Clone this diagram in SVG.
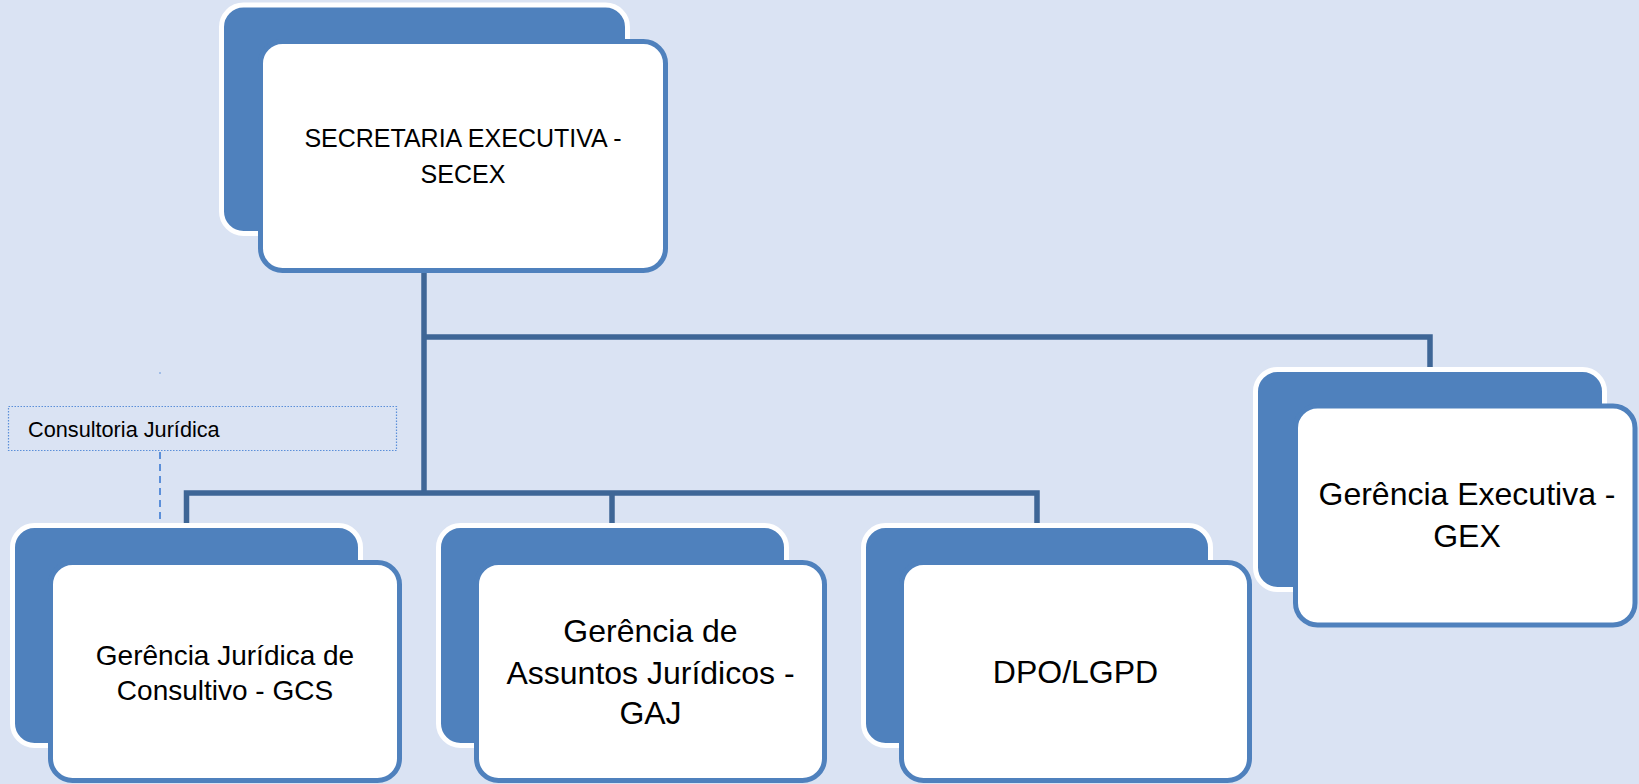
<svg xmlns="http://www.w3.org/2000/svg" width="1639" height="784" viewBox="0 0 1639 784">
<style>
.bg{fill:#dae3f3}
.back{fill:#4f81bd;stroke:#ffffff;stroke-width:5}
.front{fill:#ffffff;stroke:#4f81bd;stroke-width:5}
.conn{fill:none;stroke:#3e6696;stroke-width:5.5;stroke-linejoin:miter}
.dash{fill:none;stroke:#5b8fd9;stroke-width:2;stroke-dasharray:7 5}
.lbl{font-family:"Liberation Sans",Arial,sans-serif;fill:#000000;text-anchor:middle}
.note{font-family:"Liberation Sans",Arial,sans-serif;fill:#000000;font-size:21.7px}
</style>
<rect class="bg" x="0" y="0" width="1639" height="784"/>
<g id="connectors">
<path class="conn" d="M424 272 V493"/>
<path class="conn" d="M424 337 H1430 V370"/>
<path class="conn" d="M186.5 525 V493 H1037 V525"/>
<path class="conn" d="M612 493 V525"/>
<path class="dash" d="M160 452 V524"/>
</g>
<g id="secex">
<rect class="back" x="221.5" y="5" width="406" height="228.5" rx="22"/>
<rect class="front" x="260.5" y="41.5" width="405" height="229" rx="22"/>
<text class="lbl" font-size="25" x="463" y="147">SECRETARIA EXECUTIVA -</text>
<text class="lbl" font-size="25" x="463" y="183">SECEX</text>
</g>
<g id="consultoria">
<circle cx="160" cy="373" r="0.8" fill="#5b8fd9"/>
<rect x="8.5" y="406.5" width="388" height="44" fill="none" stroke="#5b8fd9" stroke-width="1.2" stroke-dasharray="1.5 1.5"/>
<text class="note" x="28" y="437">Consultoria Jurídica</text>
</g>
<g id="gcs">
<rect class="back" x="12.5" y="525.5" width="348" height="220" rx="22"/>
<rect class="front" x="50.5" y="562.5" width="349" height="218" rx="22"/>
<text class="lbl" font-size="28" x="225" y="665">Gerência Jurídica de</text>
<text class="lbl" font-size="28" x="225" y="700">Consultivo - GCS</text>
</g>
<g id="gaj">
<rect class="back" x="438.5" y="525.5" width="348" height="220" rx="22"/>
<rect class="front" x="476.5" y="562.5" width="348" height="218" rx="22"/>
<text class="lbl" font-size="32" x="650.5" y="642">Gerência de</text>
<text class="lbl" font-size="32" x="650.5" y="684">Assuntos Jurídicos -</text>
<text class="lbl" font-size="32" x="650.5" y="724">GAJ</text>
</g>
<g id="dpo">
<rect class="back" x="863.5" y="525.5" width="347" height="220" rx="22"/>
<rect class="front" x="901.5" y="562.5" width="348" height="218" rx="22"/>
<text class="lbl" font-size="32" x="1075.5" y="683">DPO/LGPD</text>
</g>
<g id="gex">
<rect class="back" x="1255.5" y="369.5" width="349" height="220" rx="22"/>
<rect class="front" x="1295.5" y="406" width="339.5" height="219" rx="22"/>
<text class="lbl" font-size="32" x="1467" y="505">Gerência Executiva -</text>
<text class="lbl" font-size="32" x="1467" y="547">GEX</text>
</g>
</svg>
